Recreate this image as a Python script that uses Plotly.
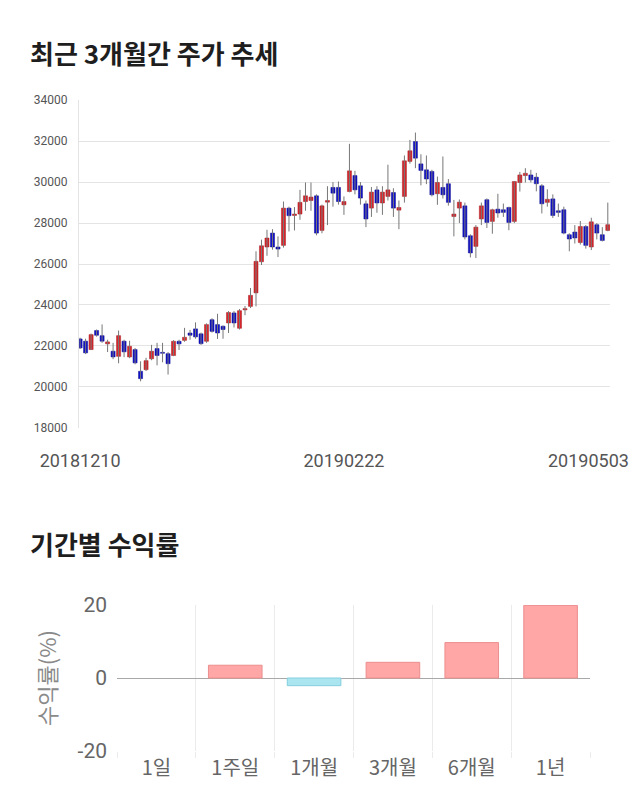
import plotly.graph_objects as go
import pandas as pd

# ---------------- data ----------------
holidays = ["2018-12-25", "2018-12-31", "2019-01-01", "2019-02-04",
            "2019-02-05", "2019-02-06", "2019-03-01", "2019-05-01"]
dates = [d.strftime("%Y%m%d") for d in pd.bdate_range("2018-12-10", "2019-05-03")
         if d.strftime("%Y-%m-%d") not in holidays]

opens = [22340, 22230, 21820, 22750, 22500, 22100, 21740, 21490, 22230, 21460,
         21820, 20760, 20840, 21370, 21870, 21680, 21620, 21530, 22225, 22270,
         22630, 22830, 22590, 22225, 23280, 23040, 22960, 23120, 23610, 22860,
         23760, 23930, 24590, 26110, 26830, 27510, 26830, 26910, 28730, 28370,
         28440, 29050, 29100, 29330, 27640, 29020, 29740, 29740, 28890, 29540,
         30320, 29820, 28940, 28730, 29620, 28980, 29300, 29490, 28630, 29300,
         31010, 31980, 30890, 30600, 30520, 29430, 29740, 29920, 28320, 28730,
         28840, 27380, 26860, 28200, 29140, 28080, 28680, 28650, 28760, 28080,
         29980, 30320, 30350, 30240, 29820, 29010, 29180, 28600, 28650, 27430,
         27560, 27050, 27830, 26830, 27920, 27430, 27640]
highs = [22400, 22350, 22600, 22800, 23050, 22300, 22150, 22750, 22300, 22250,
         21900, 21250, 21420, 22050, 22150, 22150, 21700, 22280, 22300, 22880,
         22780, 23150, 22650, 23100, 23350, 23570, 23000, 23700, 23700, 23800,
         23950, 24830, 26620, 27190, 27670, 27700, 27350, 29050, 28800, 28780,
         29620, 29980, 29980, 29400, 28900, 29800, 30000, 30030, 29300, 31870,
         30550, 30000, 29100, 29760, 29800, 29800, 30850, 29700, 29100, 31300,
         32060, 32420, 31360, 31300, 30600, 30270, 31250, 30150, 29130, 29150,
         29000, 27450, 27900, 29000, 29200, 28700, 29430, 28950, 28800, 30050,
         30500, 30680, 30600, 30450, 29900, 29650, 29400, 28950, 28800, 27500,
         27900, 28100, 27900, 28260, 28000, 27800, 29000]
lows = [21850, 21600, 21800, 22450, 22150, 21700, 21350, 21150, 21450, 21400,
        21100, 20270, 20770, 21300, 21050, 21200, 20600, 21500, 21800, 22200,
        22300, 22350, 22050, 22150, 22650, 22340, 22350, 22630, 22900, 22800,
        23500, 23850, 23930, 25950, 26400, 26700, 26340, 26800, 27590, 27640,
        28160, 28600, 28600, 27400, 27500, 27900, 28800, 28900, 28400, 29500,
        29400, 28900, 27800, 28300, 28500, 28400, 29100, 28300, 27700, 29000,
        30900, 30680, 29840, 29900, 29300, 28890, 29200, 28850, 27350, 28000,
        27200, 26320, 26290, 27900, 27760, 27480, 28260, 28300, 27650, 28000,
        29540, 29980, 29980, 29550, 28470, 28800, 28250, 28300, 27450, 26620,
        27000, 26950, 26750, 26680, 27200, 27100, 27600]
closes = [21900, 21660, 22550, 22520, 22230, 22195, 21460, 22500, 21710, 21980,
          21170, 20400, 21280, 21740, 21530, 21640, 21130, 22225, 22100, 22420,
          22520, 22440, 22110, 23040, 22710, 22630, 22800, 23630, 23120, 23720,
          23820, 24470, 26130, 26890, 27270, 26830, 26730, 28730, 28360, 28440,
          29010, 29330, 29270, 27510, 28840, 29100, 29460, 29050, 29050, 30550,
          29620, 29220, 28200, 29510, 28980, 29510, 29620, 28730, 28760, 31040,
          31530, 31170, 30570, 30150, 29380, 29980, 29380, 29010, 28440, 29020,
          27320, 26540, 27800, 28840, 28030, 28650, 28490, 28520, 28030, 30030,
          30350, 30430, 30110, 29920, 28940, 29160, 28370, 28520, 27510, 27220,
          27270, 27830, 26910, 28060, 27510, 27150, 27920]

price_ticks = [18000, 20000, 22000, 24000, 26000, 28000, 30000, 32000, 34000]
date_ticks = ["20181210", "20190222", "20190503"]

periods = ["1일", "1주일", "1개월", "3개월", "6개월", "1년"]
returns = [0.0, 3.5, -2.1, 4.3, 9.7, 19.9]
return_ticks = [-20, 0, 20]

# ---------------- styling ----------------
W, H = 640, 810
FONT = "Noto Sans CJK KR"
NUMFONT = "Roboto, Noto Sans CJK KR"
RED, RED_L = "#D8262C", "#A51A1F"
BLUE, BLUE_L = "#1212C8", "#0A0A90"

body_base = [min(o, c) for o, c in zip(opens, closes)]
body_h = [max(abs(c - o), 45) for o, c in zip(opens, closes)]
fill = [RED if c >= o else BLUE for o, c in zip(opens, closes)]
edge = [RED_L if c >= o else BLUE_L for o, c in zip(opens, closes)]

wx, wy = [], []
for d, hi, lo in zip(dates, highs, lows):
    wx += [d, d, None]
    wy += [lo, hi, None]

fig = go.Figure()
fig.add_trace(go.Scatter(x=wx, y=wy, mode="lines", line=dict(color="#777777", width=1),
                         xaxis="x", yaxis="y", hoverinfo="skip", showlegend=False))
fig.add_trace(go.Bar(x=dates, y=body_h, base=body_base, width=0.74,
                     marker=dict(color=fill, line=dict(color=edge, width=0.5)),
                     xaxis="x", yaxis="y", showlegend=False))

bar_fill = ["#FFA6A6" if v >= 0 else "#ABE6F0" for v in returns]
bar_edge = ["#EC8E8E" if v >= 0 else "#86CEDD" for v in returns]
bar_lw = [1 if v != 0 else 0 for v in returns]
fig.add_trace(go.Bar(x=periods, y=returns, width=0.68,
                     marker=dict(color=bar_fill, line=dict(color=bar_edge, width=bar_lw)),
                     xaxis="x2", yaxis="y2", showlegend=False))

fig.update_layout(
    width=W, height=H, margin=dict(l=0, r=0, t=0, b=0, autoexpand=False),
    paper_bgcolor="white", plot_bgcolor="white", showlegend=False,
    font=dict(family=FONT, color="#555555"),
    xaxis=dict(domain=[79 / W, 610 / W], anchor="y", type="category", automargin=False,
               range=[-0.2, len(dates) - 1 + 0.4],
               tickvals=date_ticks[:2], ticktext=date_ticks[:2],
               showgrid=False, showline=False, ticks="", zeroline=False,
               tickfont=dict(family=NUMFONT, size=18, color="#555555"),
               ticklabelstandoff=20),
    yaxis=dict(domain=[(H - 428) / H, (H - 100) / H], anchor="x", automargin=False,
               range=[17990, 34010], tickvals=price_ticks,
               ticktext=[str(v) for v in price_ticks],
               showgrid=True, gridcolor="#E4E4E4", gridwidth=1,
               showline=True, linecolor="#E4E4E4", zeroline=False,
               tickfont=dict(family=NUMFONT, size=12, color="#555555"),
               ticklabelstandoff=8),
    xaxis2=dict(domain=[117 / W, 590 / W], anchor="y2", type="category", automargin=False,
                tickson="boundaries", showgrid=True, gridcolor="#EBEBEB",
                ticks="outside", ticklen=6, tickcolor="#EBEBEB",
                showline=False, zeroline=False,
                tickfont=dict(family=FONT, size=20, color="#666666"),
                ticklabelstandoff=3),
    yaxis2=dict(domain=[(H - 751) / H, (H - 605) / H], anchor="x2", automargin=False,
                range=[-20, 20], tickvals=return_ticks,
                ticktext=[str(v) for v in return_ticks],
                showgrid=True, gridcolor="#E0E0E0", zeroline=True,
                zerolinecolor="#A8A8A8", zerolinewidth=1,
                tickfont=dict(family=NUMFONT, size=21, color="#666666"),
                ticklabelstandoff=9),
    annotations=[
        dict(text="<b>최근 3개월간 주가 추세</b>", xref="paper", yref="paper",
             x=28 / W, y=(H - 52) / H, xanchor="left", yanchor="middle",
             showarrow=False, font=dict(family=FONT, size=26, color="#1E1E1E")),
        dict(text="<b>기간별 수익률</b>", xref="paper", yref="paper",
             x=28 / W, y=(H - 543) / H, xanchor="left", yanchor="middle",
             showarrow=False, font=dict(family=FONT, size=26, color="#1E1E1E")),
        dict(text=date_ticks[2], xref="paper", yref="paper",
             x=631 / W, y=(H - 461) / H, xanchor="right", yanchor="middle",
             showarrow=False,
             font=dict(family=NUMFONT, size=18, color="#555555")),
        dict(text="수익률(%)", xref="paper", yref="paper",
             x=46 / W, y=(H - 678) / H, xanchor="center", yanchor="middle",
             textangle=-90, showarrow=False,
             font=dict(family=FONT, size=22, color="#8A8A8A")),
    ],
)

fig.write_html("out.html")
